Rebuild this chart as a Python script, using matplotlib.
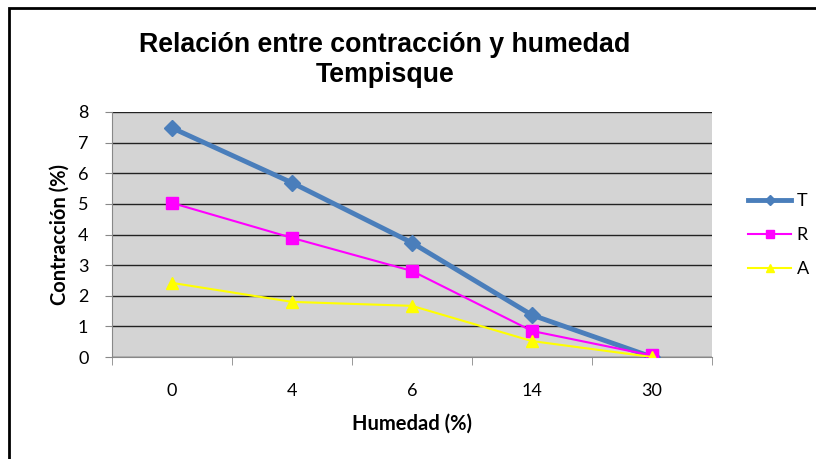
import matplotlib
matplotlib.use("Agg")
import matplotlib.pyplot as plt
from matplotlib.patches import Rectangle

humedad = ["0", "4", "6", "14", "30"]
serie_t = [7.48, 5.69, 3.73, 1.37, 0.0]
serie_r = [5.03, 3.89, 2.81, 0.85, 0.05]
serie_a = [2.42, 1.80, 1.67, 0.52, 0.0]

fig = plt.figure(figsize=(8.16, 4.59), dpi=100)
fig.patch.set_facecolor("white")

# marco negro del grafico original
fig.patches.append(Rectangle((9 / 816, -0.1), 1.2, 1.1 - 8 / 459,
                             transform=fig.transFigure, fill=False,
                             edgecolor="black", linewidth=2))

ax = fig.add_axes([112 / 816, 1 - 357 / 459, 600 / 816, 245 / 459])
ax.set_facecolor("#d4d4d4")

x = range(len(humedad))
ax.plot(x, serie_t, color="#4a7ebb", linewidth=3.5, marker="D", markersize=8, label="T", zorder=3)
ax.plot(x, serie_r, color="#ff00ff", linewidth=1.5, marker="s", markersize=8, label="R", zorder=4)
ax.plot(x, serie_a, color="#ffff00", linewidth=1.5, marker="^", markersize=8, label="A", zorder=5)

ax.set_xlim(-0.5, 4.5)
ax.set_ylim(0, 8)
ax.set_yticks(range(0, 9))
ax.set_xticks(list(x))
ax.set_xticklabels(humedad)
ax.set_xticks([i - 0.5 for i in range(6)], minor=True)
ax.tick_params(axis="x", which="major", length=0, pad=19)
ax.tick_params(axis="x", which="minor", length=6, color="#888888")
ax.tick_params(axis="y", length=5, color="#888888", pad=12)
for lbl in ax.get_xticklabels() + ax.get_yticklabels():
    lbl.set_fontfamily("Lato")
    lbl.set_fontsize(13)

ax.grid(axis="y", color="#222222", linewidth=1)
ax.set_axisbelow(True)
for side in ["top", "right"]:
    ax.spines[side].set_visible(False)
ax.spines["left"].set_color("#888888")
ax.spines["bottom"].set_color("#888888")

ax.set_xlabel("Humedad (%)", fontfamily="Lato", fontweight="bold", fontsize=14.5, labelpad=10)
ax.set_ylabel("Contracción (%)", fontfamily="Lato", fontweight="bold", fontsize=14.5, labelpad=6)

fig.text(385 / 816, 1 - 60 / 459, "Relación entre contracción y humedad\nTempisque",
         ha="center", va="center", fontfamily="Liberation Sans", fontweight="bold",
         fontsize=19.3, linespacing=1.15)

fig.legend(loc="center left", bbox_to_anchor=(748 / 816, 1 - 235 / 459), frameon=False,
           prop={"family": "Lato", "size": 13}, handlelength=2.4, labelspacing=1.0,
           handletextpad=0.3, markerscale=0.7, borderpad=0, borderaxespad=0)

fig.savefig("out.png", dpi=100)
